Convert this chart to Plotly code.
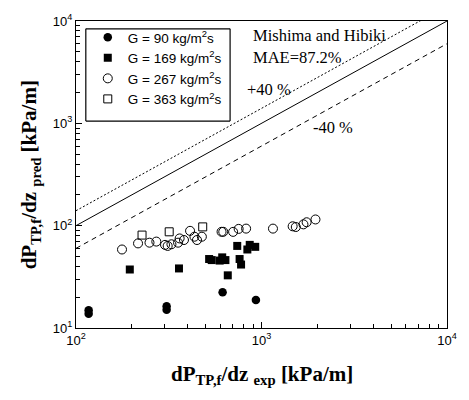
import plotly.graph_objects as go

# G = 90 kg/m2s (filled circles)
x_g90 = [117, 117, 308, 308, 617, 933]
y_g90 = [14.9, 13.8, 16.3, 15.1, 22.3, 18.8]
# G = 169 kg/m2s (filled squares)
x_g169 = [195, 359, 522, 539, 595, 614, 639, 658, 740, 762, 776, 839, 864, 925]
y_g169 = [37.3, 38.2, 47.2, 46.1, 45.6, 49.0, 46.1, 32.7, 63.4, 47.2, 41.7, 58.5, 64.9, 62.1]
# G = 267 kg/m2s (open circles)
x_g267 = [177, 216, 249, 271, 302, 312, 327, 355, 362, 382, 412, 435, 449, 477,
          609, 622, 703, 753, 826, 1153, 1472, 1531, 1683, 1751, 1954]
y_g267 = [58.5, 67.1, 68.2, 69.9, 64.9, 63.4, 65.8, 68.2, 75.0, 72.4, 89.0, 78.0, 72.4, 78.0,
          87.1, 87.1, 87.0, 93.0, 93.6, 93.6, 98.6, 97.0, 103.0, 108.0, 115.0]
# G = 363 kg/m2s (open squares)
x_g363 = [227, 318, 482]
y_g363 = [80.9, 87.1, 97.3]

# reference lines: predicted = ratio * experimental
line_x = [100, 10000]
ratio_mid, ratio_up, ratio_low = 1.0, 1.4, 0.6

major_vals = [10, 100, 1000, 10000]
major_text = ["10<sup>1</sup>", "10<sup>2</sup>", "10<sup>3</sup>", "10<sup>4</sup>"]
minor_vals = [m * 10 ** e for e in range(1, 4) for m in range(2, 10)]

SERIF = "Liberation Serif, Times New Roman, serif"
SANS = "Liberation Sans, Arial, sans-serif"

# plot-area pixel geometry (for placing paper-referenced text)
L, R, T, B = 76, 454, 15, 328
def px(xp):
    return (xp - L) / (R - L)
def py(yp):
    return (B - yp) / (B - T)

fig = go.Figure()

fig.add_trace(go.Scatter(x=line_x, y=[v * ratio_up for v in line_x], mode="lines",
                         line=dict(color="black", width=1, dash="2px,2px"), showlegend=False))
fig.add_trace(go.Scatter(x=line_x, y=[v * ratio_mid for v in line_x], mode="lines",
                         line=dict(color="black", width=1), showlegend=False))
fig.add_trace(go.Scatter(x=line_x, y=[v * ratio_low for v in line_x], mode="lines",
                         line=dict(color="black", width=1, dash="5px,4px"), showlegend=False))

fig.add_trace(go.Scatter(x=x_g90, y=y_g90, mode="markers", name="G = 90 kg/m<sup>2</sup>s",
                         marker=dict(symbol="circle", size=8.5, color="black")))
fig.add_trace(go.Scatter(x=x_g169, y=y_g169, mode="markers", name="G = 169 kg/m<sup>2</sup>s",
                         marker=dict(symbol="square", size=8, color="black")))
fig.add_trace(go.Scatter(x=x_g267, y=y_g267, mode="markers", name="G = 267 kg/m<sup>2</sup>s",
                         marker=dict(symbol="circle-open", size=9, color="black", line=dict(width=1))))
fig.add_trace(go.Scatter(x=x_g363, y=y_g363, mode="markers", name="G = 363 kg/m<sup>2</sup>s",
                         marker=dict(symbol="square-open", size=8, color="black", line=dict(width=1))))

axis_common = dict(
    type="log", showgrid=False, zeroline=False,
    showline=True, linecolor="black", linewidth=1, mirror=True,
    ticks="inside", ticklen=6, tickwidth=1, tickcolor="black",
    tickmode="array", tickvals=major_vals, ticktext=major_text,
    tickfont=dict(family=SANS, size=13, color="black"),
    minor=dict(ticks="inside", ticklen=4, tickwidth=1, tickcolor="black",
               tickmode="array", tickvals=minor_vals, showgrid=False),
)

fig.update_layout(
    width=469, height=400,
    margin=dict(l=L, r=469 - R, t=T, b=400 - B),
    paper_bgcolor="white", plot_bgcolor="white",
    xaxis=dict(range=[2, 4], **axis_common),
    yaxis=dict(range=[1, 4], **axis_common),
    showlegend=True,
    legend=dict(x=px(88), y=py(16), xanchor="left", yanchor="top",
                borderwidth=0, bgcolor="rgba(0,0,0,0)",
                font=dict(family=SANS, size=13.5, color="black"),
                tracegroupgap=0, itemwidth=30),
    font=dict(family=SERIF, color="black"),
)

# legend frame drawn as four line segments
bx0, bx1, by0, by1 = px(86), px(233), py(117), py(23)
for (xa, ya, xb, yb) in [(bx0, by0, bx1, by0), (bx0, by1, bx1, by1),
                         (bx0, by0, bx0, by1), (bx1, by0, bx1, by1)]:
    fig.add_shape(type="line", xref="paper", yref="paper",
                  x0=xa, y0=ya, x1=xb, y1=yb,
                  line=dict(color="#000000", width=1.2), layer="above")

anns = [
    ("Mishima and Hibiki", 254, 30),
    ("MAE=87.2%", 254, 52),
    ("+40 %", 248, 85),
    ("-40 %", 315, 124),
]
for t, ax, ay in anns:
    fig.add_annotation(text=t, xref="paper", yref="paper", x=px(ax), y=py(ay),
                       xanchor="left", yanchor="middle", showarrow=False,
                       font=dict(family=SERIF, size=16.5, color="black"))

fig.add_annotation(text="<b>dP<sub>TP,f</sub>/dz <sub>exp</sub> [kPa/m]</b>",
                   xref="paper", yref="paper", x=0.5, y=py(376),
                   xanchor="center", yanchor="middle", showarrow=False,
                   font=dict(family=SERIF, size=21, color="black"))
fig.add_annotation(text="<b>dP<sub>TP,f</sub>/dz <sub>pred</sub> [kPa/m]</b>",
                   xref="paper", yref="paper", x=px(29), y=0.5,
                   xanchor="center", yanchor="middle", textangle=-90, showarrow=False,
                   font=dict(family=SERIF, size=21, color="black"))

fig.write_html("out.html")
